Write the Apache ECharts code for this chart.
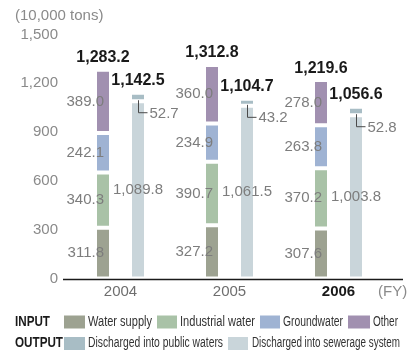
<!DOCTYPE html>
<html>
<head>
<meta charset="utf-8">
<script src="https://cdn.jsdelivr.net/npm/echarts@6/dist/echarts.min.js"></script>
<style>
  html, body { margin: 0; padding: 0; background: #fff; }
  #chart { width: 416px; height: 358px; }
</style>
</head>
<body>
<div id="chart"></div>
<script>
// Fiscal years on the horizontal axis
const years = ['2004', '2005', '2006'];

// Water input (10,000 tons), stacked bottom to top
const waterSupply = [311.8, 327.2, 307.6];
const industrialWater = [340.3, 390.7, 370.2];
const groundwater = [242.1, 234.9, 263.8];
const otherInput = [389.0, 360.0, 278.0];
const inputTotals = [1283.2, 1312.8, 1219.6];

// Water output (10,000 tons), stacked bottom to top
const sewerage = [1089.8, 1061.5, 1003.8];
const publicWaters = [52.7, 43.2, 52.8];
const outputTotals = [1142.5, 1104.7, 1056.6];

// Vertical axis ticks
const yTicks = [0, 300, 600, 900, 1200, 1500];

const FONT = "'Liberation Sans', Arial, sans-serif";

const COLORS = {
  'Water supply': '#9da291',
  'Industrial water': '#a9c2a7',
  'Groundwater': '#9fb3d3',
  'Other': '#a190b0',
  'Discharged into public waters': '#a8bdc5',
  'Discharged into sewerage system': '#c9d5da'
};

const BAR_W = 16;            // rect width incl. white border
const BAR_GAP_PX = 19;       // gap between the two rects of a year
const HALF_PAIR = (BAR_W + BAR_GAP_PX) / 2;   // offset of each bar from category centre

const fmt = v => v.toLocaleString('en-US', { minimumFractionDigits: 1, maximumFractionDigits: 1 });

const segLabel = {
  show: true,
  position: [9, '50%'],
  align: 'right',
  verticalAlign: 'middle',
  color: '#7d7d7d',
  fontFamily: FONT,
  fontSize: 15,
  textBorderWidth: 0,
  formatter: p => fmt(p.value)
};

function barSeries(name, data, stack, label) {
  return {
    name, type: 'bar', stack, data,
    barWidth: BAR_W,
    barGap: (BAR_GAP_PX / BAR_W * 100) + '%',
    itemStyle: { color: COLORS[name], borderColor: '#fff', borderWidth: 2 },
    label: label || { show: false },
    emphasis: { disabled: true }
  };
}

// Hand-laid legend with condensed text, two rows (INPUT / OUTPUT).
// sx/sw: swatch left & width, tx: text left, tw: condensed text width
const legendRows = [
  { title: 'INPUT', titleW: 35, y: 322, items: [
    { name: 'Water supply', sx: 64, sw: 21, tx: 88, tw: 64 },
    { name: 'Industrial water', sx: 157, sw: 20, tx: 180, tw: 75 },
    { name: 'Groundwater', sx: 260, sw: 20, tx: 283, tw: 60 },
    { name: 'Other', sx: 348, sw: 22, tx: 373, tw: 25 }
  ]},
  { title: 'OUTPUT', titleW: 48, y: 343.5, items: [
    { name: 'Discharged into public waters', sx: 64, sw: 21, tx: 88, tw: 135 },
    { name: 'Discharged into sewerage system', sx: 228, sw: 20, tx: 252, tw: 148 }
  ]}
];

const measureCtx = document.createElement('canvas').getContext('2d');
function squeeze(text, font, width) {
  measureCtx.font = font;
  return Math.min(1, width / measureCtx.measureText(text).width);
}

function legendGraphics() {
  const out = [];
  legendRows.forEach(row => {
    const tf = 'bold 14px ' + FONT;
    out.push({
      type: 'text', silent: true, x: 15, y: row.y,
      scaleX: squeeze(row.title, tf, row.titleW),
      style: { text: row.title, font: tf, fill: '#1a1a1a',
               align: 'left', verticalAlign: 'middle' }
    });
    row.items.forEach(it => {
      const f = '14px ' + FONT;
      out.push({
        type: 'rect', silent: true,
        shape: { x: it.sx, y: row.y - 6.5, width: it.sw, height: 13 },
        style: { fill: COLORS[it.name] }
      });
      out.push({
        type: 'text', silent: true, x: it.tx, y: row.y,
        scaleX: squeeze(it.name, f, it.tw),
        style: { text: it.name, font: f, fill: '#333',
                 align: 'left', verticalAlign: 'middle' }
      });
    });
  });
  return out;
}

const chart = echarts.init(document.getElementById('chart'), null, { renderer: 'canvas' });

const option = {
  animation: false,
  textStyle: { fontFamily: FONT },
  grid: { left: 66, right: 23, top: 34.5, bottom: 79.5 },
  xAxis: {
    type: 'category',
    data: years.map((y, i) => i === years.length - 1
      ? { value: y, textStyle: { fontWeight: 'bold', color: '#1a1a1a' } }
      : y),
    axisLine: { show: false },
    axisTick: { show: false },
    axisLabel: { color: '#6e6e6e', fontSize: 15, fontFamily: FONT, margin: 6 }
  },
  yAxis: {
    type: 'value',
    min: yTicks[0],
    max: yTicks[yTicks.length - 1],
    interval: yTicks[1] - yTicks[0],
    axisLine: { show: false },
    axisTick: { show: false },
    splitLine: { show: false },
    axisLabel: {
      color: '#8a8a8a', fontSize: 15, fontFamily: FONT, margin: 8,
      formatter: v => v.toLocaleString('en-US')
    }
  },
  series: [
    barSeries('Water supply', waterSupply, 'input', segLabel),
    barSeries('Industrial water', industrialWater, 'input', segLabel),
    barSeries('Groundwater', groundwater, 'input', segLabel),
    barSeries('Other', otherInput, 'input', segLabel),
    barSeries('Discharged into sewerage system', sewerage, 'output', {
      show: true, position: 'inside', align: 'center', verticalAlign: 'middle',
      color: '#7d7d7d', fontFamily: FONT, fontSize: 15, textBorderWidth: 0,
      formatter: p => fmt(p.value)
    }),
    barSeries('Discharged into public waters', publicWaters, 'output'),
    // Bold totals above both bars of each year
    {
      type: 'custom',
      silent: true,
      z: 5,
      data: years.flatMap((y, i) => [[i, inputTotals[i], -1], [i, outputTotals[i], 1]]),
      renderItem: (params, api) => {
        const p = api.coord([api.value(0), api.value(1)]);
        return {
          type: 'text',
          x: p[0] + api.value(2) * HALF_PAIR,
          y: p[1] - 4,
          style: {
            text: fmt(api.value(1)),
            align: 'center', verticalAlign: 'bottom',
            font: 'bold 16px ' + FONT,
            fill: '#1a1a1a'
          }
        };
      }
    },
    // L-shaped leader and value for the public-waters segment
    {
      type: 'custom',
      silent: true,
      z: 5,
      data: years.map((y, i) => [i, sewerage[i], publicWaters[i]]),
      renderItem: (params, api) => {
        const p = api.coord([api.value(0), api.value(1)]);
        const x = Math.round(p[0] + HALF_PAIR) + 0.5;
        const y0 = p[1] - 1;
        const y1 = y0 + 12.5;
        return {
          type: 'group',
          children: [
            {
              type: 'polyline',
              shape: { points: [[x, y0], [x, y1], [x + 9, y1]] },
              style: { stroke: '#4a4a4a', lineWidth: 1, fill: null }
            },
            {
              type: 'text',
              x: x + 11, y: y1 + 1,
              style: {
                text: fmt(api.value(2)),
                align: 'left', verticalAlign: 'middle',
                font: '15px ' + FONT, fill: '#7d7d7d'
              }
            }
          ]
        };
      }
    }
  ]
};

chart.setOption(option);

// Baseline, free-standing captions and legend
const base = chart.convertToPixel({ gridIndex: 0 }, [0, 0]);
const baseY = Math.round(base[1]) + 0.5;
chart.setOption({
  graphic: [
    {
      type: 'line', silent: true, z: 10,
      shape: { x1: 63, y1: baseY, x2: 403, y2: baseY },
      style: { stroke: '#1a1a1a', lineWidth: 1.5 }
    },
    {
      type: 'text', silent: true, left: 15, top: 8,
      style: { text: '(10,000 tons)', font: '15px ' + FONT, fill: '#8a8a8a' }
    },
    {
      type: 'text', silent: true, left: 378, top: 284,
      style: { text: '(FY)', font: '15px ' + FONT, fill: '#8a8a8a' }
    }
  ].concat(legendGraphics())
});
</script>
</body>
</html>
